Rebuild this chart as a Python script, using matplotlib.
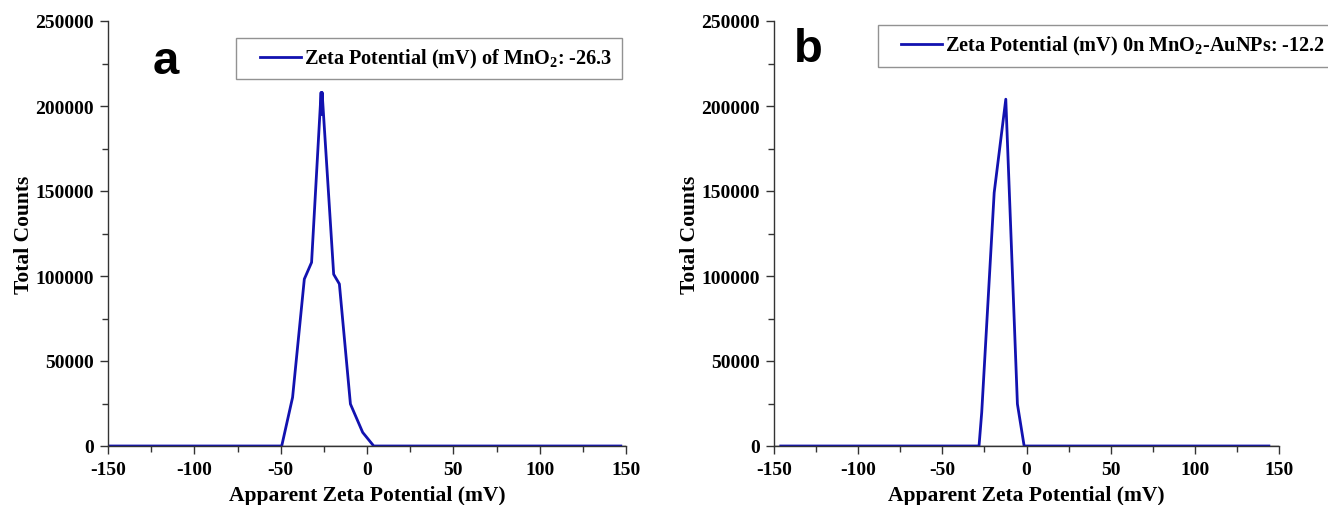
import matplotlib
matplotlib.use("Agg")
import matplotlib.pyplot as plt
from matplotlib.legend_handler import HandlerLine2D
from matplotlib.lines import Line2D
from matplotlib.ticker import MultipleLocator

plt.rcParams["font.family"] = "Liberation Serif"
plt.rcParams["font.weight"] = "bold"
plt.rcParams["axes.unicode_minus"] = False
plt.rcParams["mathtext.fontset"] = "custom"
plt.rcParams["mathtext.rm"] = "Liberation Serif:bold"
plt.rcParams["mathtext.bf"] = "Liberation Serif:bold"

# panel a: MnO2
mv_a = [-150, -49.4, -43.1, -36.3, -32.1, -26.6, -26.3, -26.0, -19.3, -16.0, -9.6, -2.5, 3.9, 147]
counts_a = [0, 0, 28600, 98200, 108000, 208000, 195000, 208000, 101000, 95300, 24700, 8000, 0, 0]

# panel b: MnO2-AuNPs
mv_b = [-146, -28.2, -26.6, -19.2, -12.3, -5.4, -1.4, 144]
counts_b = [0, 0, 19800, 149000, 204000, 24700, 0, 0]

label_a = r"Zeta Potential (mV) of MnO$_\mathbf{2}$: -26.3"
label_b = r"Zeta Potential (mV) 0n MnO$_\mathbf{2}$-AuNPs: -12.2"

line_color = "#1212B0"

fig = plt.figure(figsize=(13.28, 5.06), dpi=100)
ax_a = fig.add_axes([108 / 1328, 59 / 506, 518 / 1328, 425 / 506])
ax_b = fig.add_axes([774 / 1328, 59 / 506, 505 / 1328, 425 / 506])

panels = [
    (ax_a, mv_a, counts_a, label_a, "a", (0.112, 0.905), (0.248, 0.96)),
    (ax_b, mv_b, counts_b, label_b, "b", (0.068, 0.935), (0.205, 0.99)),
]

for ax, x, y, lab, letter, letter_pos, leg_pos in panels:
    ax.axhline(0, color="black", lw=1.0, zorder=1)
    ax.plot(x, y, color=line_color, lw=2.0, label=lab, zorder=2)
    ax.set_xlim(-150, 150)
    ax.set_ylim(0, 250000)
    ax.xaxis.set_major_locator(MultipleLocator(50))
    ax.xaxis.set_minor_locator(MultipleLocator(25))
    ax.yaxis.set_major_locator(MultipleLocator(50000))
    ax.yaxis.set_minor_locator(MultipleLocator(25000))
    for side in ("top", "right"):
        ax.spines[side].set_visible(False)
    for side in ("left", "bottom"):
        ax.spines[side].set_color("#333333")
        ax.spines[side].set_linewidth(1.0)
    ax.tick_params(which="major", direction="out", length=6, width=1.0, labelsize=14,
                   colors="#333333", labelcolor="black", pad=4)
    ax.tick_params(which="minor", direction="out", length=4, width=1.0, colors="#333333")
    ax.tick_params(axis="x", which="major", pad=5)
    ax.set_xlabel("Apparent Zeta Potential (mV)", fontsize=15.5, fontweight="bold", labelpad=5)
    ax.set_ylabel("Total Counts", fontsize=15.5, fontweight="bold", labelpad=1)
    ax.text(letter_pos[0], letter_pos[1], letter, transform=ax.transAxes, fontsize=34,
            fontweight="bold", family="Liberation Sans", ha="center", va="center")
    # legend with a gap before the line sample, as in the original
    leg = ax.legend(loc="upper left", bbox_to_anchor=leg_pos, fontsize=14.6, frameon=True,
                    fancybox=False, handlelength=2.75, handletextpad=0.15, borderpad=0.45,
                    borderaxespad=0, handler_map={Line2D: HandlerLine2D(xpad=0.7)})
    leg.get_frame().set_edgecolor("#777777")
    leg.get_frame().set_linewidth(1.0)

fig.savefig("out.png", dpi=100)
